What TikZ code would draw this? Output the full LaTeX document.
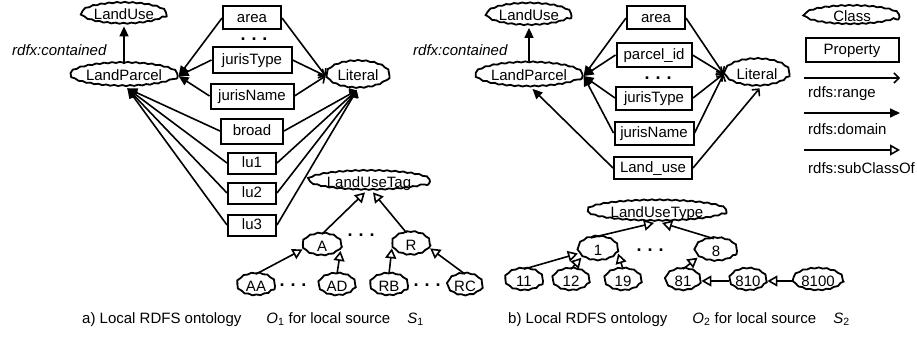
\documentclass[tikz,border=0pt]{standalone}
\usepackage{fontspec}
\setmainfont{Liberation Sans}
\usetikzlibrary{arrows.meta,calc,decorations.pathmorphing,shapes.geometric}
\begin{document}
\begin{tikzpicture}[x=1pt,y=-1pt,
  every node/.style={font=\fontsize{15}{18}\selectfont, inner sep=0pt},
  cls/.style={ellipse, draw, line width=1.8pt, text height=10.5pt, text depth=0.5pt,
    decorate, decoration={snake,amplitude=0.5pt,segment length=8pt}},
  prop/.style={rectangle, draw, line width=2pt, text height=10.5pt, text depth=1pt},
  edge/.style={line width=1.6pt},
  domarrow/.style={edge, -{Triangle[length=10pt,width=9pt]}},
  rngarrow/.style={edge, -{Straight Barb[length=5pt,width=10pt]}},
  subarrow/.style={edge, -{Triangle[open,length=10pt,width=11pt,fill=white]}},
  dots/.style={font=\fontsize{18}{20}\selectfont\bfseries},
  lbl/.style={anchor=base west},
]
\useasboundingbox (0,0) rectangle (917,337);

% ================= left (a) =================
\node[cls, minimum width=85pt, minimum height=21pt] (LU) at (124,15) {LandUse};
\node[cls, minimum width=105pt, minimum height=23pt] (LP) at (124,76) {LandParcel};
\node[cls, minimum width=63pt, minimum height=27pt] (Lit) at (358,76) {Literal};
\node[lbl, font=\fontsize{15}{18}\selectfont\itshape] (contA) at (12,56) {rdfx:contained};

\node[prop, minimum width=58pt, minimum height=23pt] (area) at (252,18) {area};
\node[dots] (dA1) at (254,39) {.\hspace{6pt}.\hspace{6pt}.};
\node[prop, minimum width=79pt, minimum height=25pt] (jT) at (252,60) {jurisType};
\node[prop, minimum width=83pt, minimum height=25pt] (jN) at (252,96) {jurisName};
\node[prop, minimum width=62pt, minimum height=25pt] (broad) at (252,131) {broad};
\node[prop, minimum width=48pt, minimum height=21pt] (lu1) at (252,163) {lu1};
\node[prop, minimum width=48pt, minimum height=21pt] (lu2) at (252,193) {lu2};
\node[prop, minimum width=48pt, minimum height=21pt] (lu3) at (252,225) {lu3};

\draw[domarrow] (LP) -- (LU);
\foreach \p in {area,jT,jN}{
  \draw[domarrow] (\p.west) -- (LP.east);
  \draw[rngarrow] (\p.east) -- (Lit.west);
}
\foreach \p in {broad,lu1,lu2,lu3}{
  \draw[domarrow] (\p.west) -- (LP.-75);
  \draw[rngarrow] (\p.east) -- (Lit.-95);
}

\node[cls, minimum width=122pt, minimum height=19pt] (LUT) at (369,182) {LandUseTag};
\node[cls, minimum width=39pt, minimum height=22pt] (A) at (322,246) {A};
\node[cls, minimum width=38pt, minimum height=23pt] (R) at (411,245) {R};
\node[dots] (dA2) at (361,235) {.\hspace{6pt}.\hspace{6pt}.};
\node[cls, minimum width=38pt, minimum height=22pt] (AA) at (256,286) {AA};
\node[cls, minimum width=37pt, minimum height=22pt] (AD) at (337,286) {AD};
\node[cls, minimum width=38pt, minimum height=22pt] (RB) at (389,286) {RB};
\node[cls, minimum width=35pt, minimum height=22pt] (RC) at (465,286) {RC};
\node[dots] (dA3) at (293,285) {.\hspace{6pt}.\hspace{6pt}.};
\node[dots] (dA4) at (427,285) {.\hspace{6pt}.\hspace{6pt}.};

\draw[subarrow] (A.north) -- ($(LUT.south)+(-4,0)$);
\draw[subarrow] (R.110) -- ($(LUT.south)+(4,0)$);
\draw[subarrow] (AA.north) -- (A.190);
\draw[subarrow] (AD.north) -- (A.-15);
\draw[subarrow] (RB.north) -- (R.190);
\draw[subarrow] (RC.north) -- (R.-10);

\node[lbl] (capA) at (82,323) {a) Local RDFS ontology\hspace{25pt}\textit{O}\textsubscript{1} for local source\hspace{17pt}\textit{S}\textsubscript{1}};

% ================= right (b) =================
\node[cls, minimum width=85pt, minimum height=22pt] (LU2) at (529,16) {LandUse};
\node[cls, minimum width=102pt, minimum height=24pt] (LP2) at (529,76) {LandParcel};
\node[cls, minimum width=65pt, minimum height=27pt] (Lit2) at (757,74) {Literal};
\node[lbl, font=\fontsize{15}{18}\selectfont\itshape] (contB) at (413,56) {rdfx:contained};

\node[prop, minimum width=58pt, minimum height=23pt] (area2) at (656,18) {area};
\node[prop, minimum width=75pt, minimum height=23pt] (pid) at (654,55) {parcel\_id};
\node[dots] (dB1) at (658,78) {.\hspace{6pt}.\hspace{6pt}.};
\node[prop, minimum width=76pt, minimum height=23pt] (jT2) at (654,98) {jurisType};
\node[prop, minimum width=79pt, minimum height=23pt] (jN2) at (654,133) {jurisName};
\node[prop, minimum width=78pt, minimum height=22pt] (Luse) at (653,168) {Land\_use};

\draw[domarrow] (LP2) -- (LU2);
\foreach \p in {area2,pid,jT2,jN2}{
  \draw[domarrow] (\p.west) -- (LP2.east);
  \draw[rngarrow] (\p.east) -- (Lit2.west);
}
\draw[domarrow] (Luse.west) -- (LP2.-75);
\draw[rngarrow] (Luse.east) -- (Lit2.-80);

\node[cls, minimum width=139pt, minimum height=20pt] (LUT2) at (657,212) {LandUseType};
\node[cls, minimum width=40pt, minimum height=24pt] (n1) at (598,250) {1};
\node[cls, minimum width=42pt, minimum height=23pt] (n8) at (716,251) {8};
\node[dots] (dB2) at (650,250) {.\hspace{6pt}.\hspace{6pt}.};
\node[cls, minimum width=38pt, minimum height=22pt] (n11) at (524,281) {11};
\node[cls, minimum width=37pt, minimum height=22pt] (n12) at (571,281) {12};
\node[cls, minimum width=37pt, minimum height=22pt] (n19) at (623,281) {19};
\node[cls, minimum width=35pt, minimum height=22pt] (n81) at (683,281) {81};
\node[cls, minimum width=37pt, minimum height=22pt] (n810) at (748,281) {810};
\node[cls, minimum width=50pt, minimum height=22pt] (n8100) at (818,281) {8100};

\draw[subarrow] (n1.120) -- ($(LUT2.south)+(-3,0)$);
\draw[subarrow] (n8.100) -- ($(LUT2.south)+(5,0)$);
\draw[subarrow] (n11.north) -- (n1.190);
\draw[subarrow] (n12.north) -- (n1.205);
\draw[subarrow] (n19.north) -- (n1.-10);
\draw[subarrow] (n81.north) -- (n8.200);
\draw[subarrow] (n810.west) -- (n81.east);
\draw[subarrow] (n8100.west) -- (n810.east);

\node[lbl] (capB) at (508,323) {b) Local RDFS ontology\hspace{25pt}\textit{O}\textsubscript{2} for local source\hspace{17pt}\textit{S}\textsubscript{2}};

% ================= legend =================
\node[cls, minimum width=95pt, minimum height=19pt] (kCls) at (852,17) {Class};
\node[prop, minimum width=93pt, minimum height=23pt] (kProp) at (852,50) {Property};
\coordinate (r1) at (804,78);  \coordinate (r2) at (900,78);
\coordinate (d1) at (804,113); \coordinate (d2) at (900,113);
\coordinate (s1) at (804,150); \coordinate (s2) at (900,150);
\draw[rngarrow] (r1) -- (r2);
\draw[domarrow] (d1) -- (d2);
\draw[subarrow] (s1) -- (s2);
\node[lbl] (kR) at (808,97) {rdfs:range};
\node[lbl] (kD) at (808,134.5) {rdfs:domain};
\node[lbl] (kS) at (808,173) {rdfs:subClassOf};
\end{tikzpicture}
\end{document}
